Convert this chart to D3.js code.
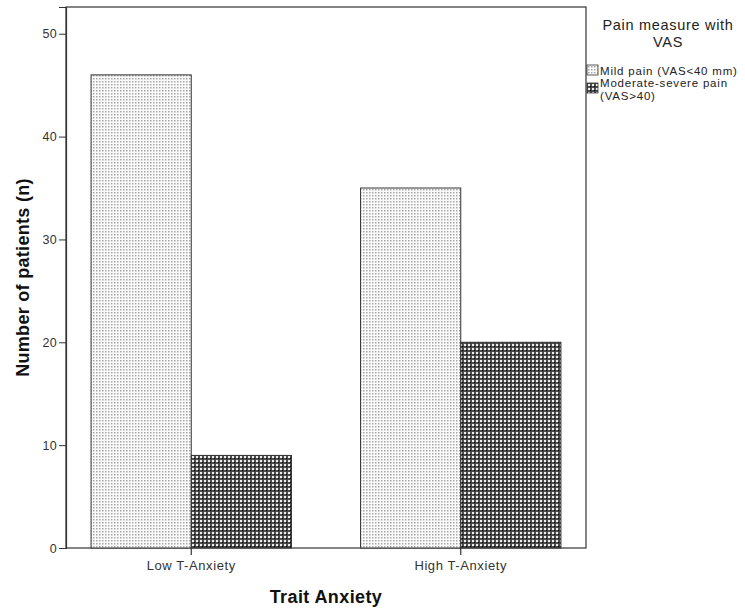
<!DOCTYPE html>
<html><head><meta charset="utf-8">
<script src="https://cdn.jsdelivr.net/npm/d3@7"></script>
<style>body{margin:0;background:#fff}svg text{font-family:"Liberation Sans",Arial,sans-serif}</style>
</head><body><svg id="c" width="745" height="608"></svg>
<script>
const categories = ["Low T-Anxiety", "High T-Anxiety"];
const seriesNames = ["Mild pain (VAS<40 mm)", "Moderate-severe pain (VAS>40)"];
const mildValues = [46, 35];
const moderateValues = [9, 20];
const yTicks = [0, 10, 20, 30, 40, 50];

const svg = d3.select("#c");
const L = 66, R = 586, T = 7, B = 548;
const defs = svg.append("defs");
const p1 = defs.append("pattern").attr("id","pMild").attr("width",3).attr("height",3).attr("patternUnits","userSpaceOnUse");
p1.append("rect").attr("width",3).attr("height",3).attr("fill","#fbfbfb");
p1.append("rect").attr("x",0).attr("y",0).attr("width",1.5).attr("height",1.5).attr("fill","#a8a8a8");
const p2 = defs.append("pattern").attr("id","pMod").attr("width",4).attr("height",4).attr("patternUnits","userSpaceOnUse");
p2.append("rect").attr("width",4).attr("height",4).attr("fill","#4e4e4e");
p2.append("rect").attr("x",0).attr("y",0).attr("width",2).attr("height",2).attr("fill","#eeeeee");
p2.append("rect").attr("x",2).attr("y",2).attr("width",1.3).attr("height",1.3).attr("fill","#000");

const y = d3.scaleLinear().domain([0, 52.6]).range([B, T]);
const x0 = d3.scaleBand().domain(categories).range([L, R]).paddingInner(0.2565).paddingOuter(0.093);
const x1 = d3.scaleBand().domain(seriesNames).range([0, x0.bandwidth()]);
const fills = ["url(#pMild)", "url(#pMod)"];
const series = [mildValues, moderateValues];

svg.append("rect").attr("x",L).attr("y",T).attr("width",R-L).attr("height",B-T).attr("fill","none").attr("stroke","#333").attr("stroke-width",1.2);

series.forEach((vals, si) => {
  svg.append("g").selectAll("rect").data(categories).join("rect")
    .attr("x", c => x0(c) + x1(seriesNames[si]))
    .attr("y", (c,i) => y(vals[i]))
    .attr("width", x1.bandwidth())
    .attr("height", (c,i) => B - y(vals[i]))
    .attr("fill", fills[si])
    .attr("stroke", "#333").attr("stroke-width", 1);
});

const ya = svg.append("g").attr("transform",`translate(${L},0)`)
  .call(d3.axisLeft(y).tickValues(yTicks).tickSize(7).tickPadding(2).tickFormat(d3.format("d")));
ya.select(".domain").attr("stroke","#333").attr("stroke-width",1.2);
ya.selectAll(".tick line").attr("stroke","#333");
ya.selectAll(".tick text").attr("font-size",12.5).attr("fill","#333").style("letter-spacing","0.3px");

const tickG = svg.append("g");
categories.forEach(c => {
  const cx = x0(c) + x0.bandwidth()/2;
  tickG.append("line").attr("x1",cx).attr("x2",cx).attr("y1",B).attr("y2",B+7).attr("stroke","#333").attr("stroke-width",1.2);
  tickG.append("text").attr("x",cx).attr("y",B+22).attr("text-anchor","middle").attr("font-size",13).attr("fill","#333").style("letter-spacing","0.6px").text(c);
});

svg.append("text").attr("x",(L+R)/2).attr("y",603).attr("text-anchor","middle")
  .attr("font-size",18).attr("font-weight","bold").attr("fill","#111").style("letter-spacing","0.4px").text("Trait Anxiety");
svg.append("text").attr("transform",`translate(29,${(T+B)/2}) rotate(-90)`).attr("text-anchor","middle")
  .attr("font-size",18).attr("font-weight","bold").attr("fill","#111").style("letter-spacing","0.3px").text("Number of patients (n)");

const lg = svg.append("g");
lg.append("text").attr("x",668).attr("y",30).attr("text-anchor","middle").attr("font-size",14.5).attr("fill","#222").style("letter-spacing","0.7px").text("Pain measure with");
lg.append("text").attr("x",668).attr("y",47).attr("text-anchor","middle").attr("font-size",14.5).attr("fill","#222").style("letter-spacing","0.7px").text("VAS");
const legRows = [
  {lines:["Mild pain (VAS<40 mm)"], y:65, ty:75},
  {lines:["Moderate-severe pain","(VAS>40)"], y:83, ty:87}
];
legRows.forEach((r,i) => {
  lg.append("rect").attr("x",587).attr("y",r.y).attr("width",11).attr("height",10).attr("fill",fills[i]).attr("stroke","#333").attr("stroke-width",0.8);
  r.lines.forEach((t,j) => {
    lg.append("text").attr("x",600).attr("y",r.ty+j*13).attr("font-size",11.5).attr("fill","#222").style("letter-spacing","0.8px").text(t);
  });
});
</script></body></html>
